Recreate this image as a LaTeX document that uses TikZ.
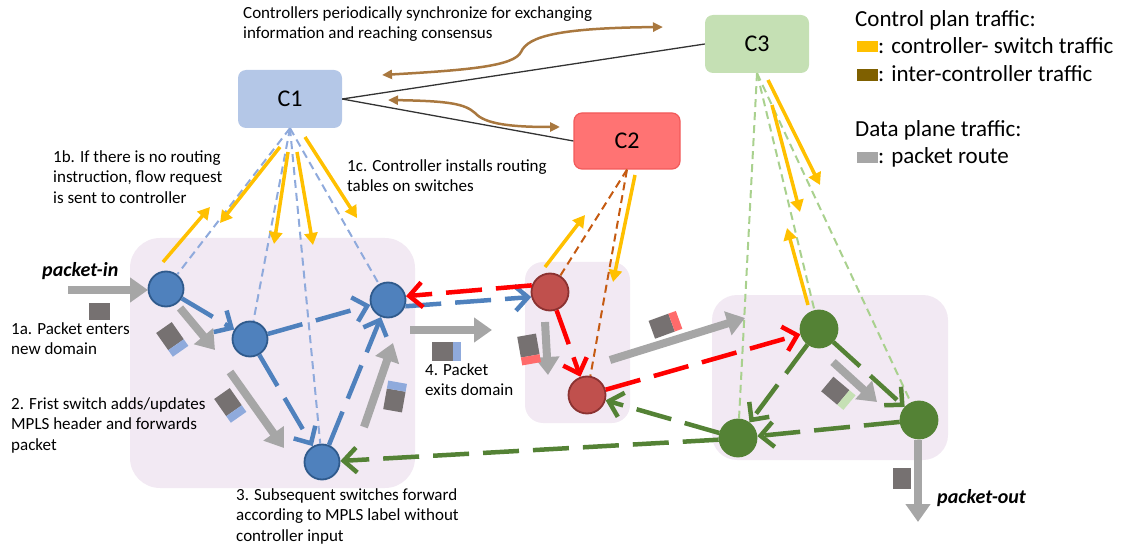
\documentclass[tikz,border=0pt]{standalone}
\usepackage{fontspec}
\setmainfont{Carlito}
\usetikzlibrary{arrows.meta}

\definecolor{domainfill}{HTML}{F2E9F3}
\definecolor{cOneFill}{HTML}{B4C7E7}
\definecolor{cTwoFill}{HTML}{FF7373}
\definecolor{cTwoLine}{HTML}{F25A5A}
\definecolor{cThreeFill}{HTML}{C5E0B4}
\definecolor{swblue}{HTML}{4F81BD}
\definecolor{swblueD}{HTML}{2F5A8C}
\definecolor{swred}{HTML}{C0504D}
\definecolor{swredD}{HTML}{8B3231}
\definecolor{swgreen}{HTML}{548235}
\definecolor{flowblue}{HTML}{4F81BD}
\definecolor{flowred}{HTML}{FF0000}
\definecolor{flowgreen}{HTML}{548235}
\definecolor{routegray}{HTML}{A6A6A6}
\definecolor{pktgray}{HTML}{767171}
\definecolor{pkblue}{HTML}{8FAADC}
\definecolor{pkred}{HTML}{FF6B6B}
\definecolor{pkgreen}{HTML}{C5E0B4}
\definecolor{ctlyellow}{HTML}{FFC000}
\definecolor{legbrown}{HTML}{7F6000}
\definecolor{syncbrown}{HTML}{A9783F}
\definecolor{linkblue}{HTML}{8FAADC}
\definecolor{linkbrown}{HTML}{C55A11}
\definecolor{linkgreen}{HTML}{A9D18E}

\begin{document}
\begin{tikzpicture}[x=1pt,y=-1pt,
  txt/.style={anchor=north west, align=left, inner sep=0pt,
    font=\fontsize{17}{20.5}\selectfont},
  legtxt/.style={anchor=west, inner sep=0pt, font=\fontsize{23}{27}\selectfont},
  ctrl/.style={rounded corners=8pt, minimum width=104pt, minimum height=58pt,
    inner sep=0pt, font=\fontsize{24}{28}\selectfont},
  sw/.style={circle, inner sep=0pt, line width=1.8pt},
  bsw/.style={sw, minimum size=35pt, fill=swblue, draw=swblueD},
  rsw/.style={sw, minimum size=37pt, fill=swred, draw=swredD},
  gsw/.style={sw, minimum size=37pt, fill=swgreen, draw=swgreen},
  flow/.style={line width=4.5pt, dash pattern=on 36pt off 14pt,
    -{Straight Barb[length=13pt,width=25pt]}},
  flowB/.style={flow, draw=flowblue},
  flowR/.style={flow, draw=flowred},
  flowG/.style={flow, draw=flowgreen},
  route/.style={draw=routegray, line width=8pt, -{Triangle[length=18pt,width=24pt]}},
  ctl/.style={draw=ctlyellow, line width=3.5pt, -{Triangle[length=12pt,width=13pt]}},
  sync/.style={draw=syncbrown, line width=2.5pt,
    {Triangle[length=10pt,width=9pt]}-{Triangle[length=10pt,width=9pt]}},
  link/.style={line width=2pt, dash pattern=on 8pt off 5pt},
  pics/pkt/.style={code={
    \fill[pktgray] (-14,-9.5) rectangle (7,9.5);
    \fill[#1] (7,-9.5) rectangle (15,9.5);}}
]
\useasboundingbox (0,0) rectangle (1122,548);

% domains
\fill[domainfill, rounded corners=30pt] (130,238) rectangle (415,488);
\fill[domainfill, rounded corners=18pt] (525,262) rectangle (630,423);
\fill[domainfill, rounded corners=25pt] (712,295) rectangle (948,460);

% controllers
\node[ctrl, fill=cOneFill] (C1) at (290,99) {C1};
\node[ctrl, fill=cTwoFill, draw=cTwoLine, line width=1.2pt, minimum width=106pt, minimum height=56pt] (C2) at (627,141) {C2};
\node[ctrl, fill=cThreeFill] (C3) at (757,44) {C3};

% switches
\node[bsw] (S1a) at (166,289) {};
\node[bsw] (S1b) at (250,339) {};
\node[bsw] (S1c) at (388,300) {};
\node[bsw] (S1d) at (322,462) {};
\node[rsw] (S2a) at (550,292) {};
\node[rsw] (S2b) at (587,395) {};
\node[gsw] (S3a) at (819,329) {};
\node[gsw] (S3b) at (919,420) {};
\node[gsw] (S3c) at (738,438) {};

% controller interconnects
\draw[line width=1.3pt, black!80] (C1.east) -- (C3.west);
\draw[line width=1.3pt, black!80] (C1.east) -- (C2.west);

% synchronisation arrows
\coordinate (syA) at (382,75);
\coordinate (syB) at (663,27);
\coordinate (syC) at (388,100);
\coordinate (syD) at (560,127);
\draw[sync] (syA) .. controls (470,70) and (514,66) .. (521,52)
  .. controls (528,36) and (560,28) .. (syB);
\draw[sync] (syC) .. controls (450,101) and (465,104) .. (475,113)
  .. controls (485,124) and (510,127) .. (syD);

% controller-to-switch links
\foreach \s in {S1a,S1b,S1d,S1c} \draw[link, draw=linkblue] (C1.south) -- (\s);
\foreach \s in {S2a,S2b} \draw[link, draw=linkbrown] (C2.south) -- (\s);
\foreach \s in {S3c,S3a,S3b} \draw[link, draw=linkgreen] (C3.south) -- (\s);

% controller-switch traffic
\coordinate (y1s) at (163,262); \coordinate (y1e) at (210,207);
\coordinate (y2s) at (280,147); \coordinate (y2e) at (220,223);
\coordinate (y3s) at (288,152); \coordinate (y3e) at (274,244);
\coordinate (y4s) at (297,152); \coordinate (y4e) at (313,245);
\coordinate (y5s) at (305,137); \coordinate (y5e) at (357,218);
\coordinate (y6s) at (545,267); \coordinate (y6e) at (585,215);
\coordinate (y7s) at (635,175); \coordinate (y7e) at (613,282);
\coordinate (y8s) at (768,80);  \coordinate (y8e) at (820,185);
\coordinate (y9s) at (772,105); \coordinate (y9e) at (800,212);
\coordinate (y10s) at (808,305); \coordinate (y10e) at (787,228);
\foreach \i in {1,...,10} \draw[ctl] (y\i s) -- (y\i e);

% packet route
\coordinate (g1s) at (68,290);  \coordinate (g1e) at (148,290);
\coordinate (g2s) at (180,308); \coordinate (g2e) at (215,350);
\coordinate (g3s) at (230,372); \coordinate (g3e) at (284,448);
\coordinate (g4s) at (364,427); \coordinate (g4e) at (393,343);
\coordinate (g5s) at (410,330); \coordinate (g5e) at (492,330);
\coordinate (g6s) at (545,322); \coordinate (g6e) at (548,375);
\coordinate (g7s) at (610,360); \coordinate (g7e) at (745,318);
\coordinate (g8s) at (833,362); \coordinate (g8e) at (877,402);
\coordinate (g9s) at (918,440); \coordinate (g9e) at (918,522);
\foreach \i in {1,...,9} \draw[route] (g\i s) -- (g\i e);

% packets
\fill[pktgray] (89,303) rectangle (110,320);
\pic[rotate=-55] at (172,339) {pkt=pkblue};
\pic[rotate=-55] at (230,405) {pkt=pkblue};
\pic[rotate=80] at (395,397) {pkt=pkblue};
\pic at (446,351) {pkt=pkblue};
\pic[rotate=-80] at (529,349) {pkt=pkred};
\pic[rotate=20] at (665,325) {pkt=pkred};
\pic[rotate=-40] at (838,393) {pkt=pkgreen};
\fill[pktgray] (893,468) rectangle (911,489);

% switch-to-switch forwarding
\draw[flowB] (S1a) -- (S1b);
\draw[flowB] (S1b) -- (S1d);
\draw[flowB] (S1b) -- (S1c);
\draw[flowB] (S1d) -- (S1c);
\draw[flowB] (S1c.-20) -- (S2a.195);
\draw[flowR] (S2a.160) -- (S1c.12);
\draw[flowR] (S2a) -- (S2b);
\draw[flowR] (S2b) -- (S3a);
\draw[flowG] (S3a) -- (S3c);
\draw[flowG] (S3a) -- (S3b);
\draw[flowG] (S3b) -- (S3c);
\draw[flowG] (S3c.165) -- (S2b);
\draw[flowG] (S3c.185) -- (S1d);

% annotations
\node[txt] (tsync) at (243,6) {Controllers periodically synchronize for exchanging\\information and reaching consensus};
\node[txt] (t1b) at (53,150) {1b. If there is no routing\\instruction, flow request\\is sent to controller};
\node[txt] (t1c) at (347,159) {1c. Controller installs routing\\tables on switches};
\node[txt] (t1a) at (11,322) {1a. Packet enters\\new domain};
\node[txt] (t2) at (11,397) {2. Frist switch adds/updates\\MPLS header and forwards\\packet};
\node[txt] (t3) at (236,488) {3. Subsequent switches forward\\according to MPLS label without\\controller input};
\node[txt] (t4) at (425,363) {4. Packet\\exits domain};
\node[anchor=west, inner sep=0pt, font=\fontsize{20}{24}\selectfont\bfseries\itshape] (pin) at (42,271) {packet-in};
\node[anchor=west, inner sep=0pt, font=\fontsize{20}{24}\selectfont\bfseries\itshape] (pout) at (937,498) {packet-out};

% legend
\node[legtxt] (l1) at (855,20) {Control plan traffic:};
\fill[ctlyellow] (857,41) rectangle (878,52);
\node[legtxt] (l2) at (878,46) {: controller- switch traffic};
\fill[legbrown] (857,69) rectangle (878,81);
\node[legtxt] (l3) at (878,74) {: inter-controller traffic};
\node[legtxt] (l4) at (855,130) {Data plane traffic:};
\fill[routegray] (857,152) rectangle (878,163);
\node[legtxt] (l5) at (878,157) {: packet route};
\end{tikzpicture}
\end{document}
